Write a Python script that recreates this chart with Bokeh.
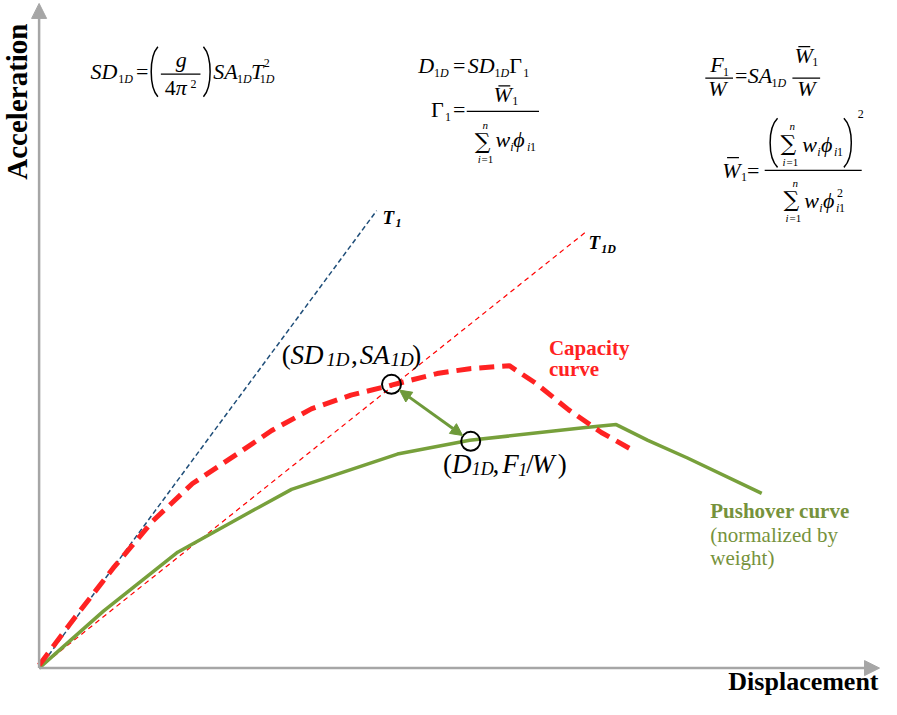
import math
from bokeh.plotting import figure
from bokeh.models import Range1d, Label, Arrow, NormalHead
from bokeh.embed import file_html
from bokeh.resources import INLINE

# ---------------- data (displacement / acceleration, arbitrary units) -------------
t1_disp = [0, 341]
t1_acc = [0, 466]
t1d_disp = [0, 552]
t1d_acc = [0, 444]
cap_disp = [0, 35, 75, 115, 155, 200, 235, 275, 315, 355, 402, 435, 475, 502, 535, 568, 603]
cap_acc = [3, 50, 102, 150, 188, 218, 242, 264, 278, 288, 300, 305, 308, 290, 263, 240, 220]
push_disp = [0, 65, 140, 215, 255, 362, 435, 552, 583, 615, 655, 730]
push_acc = [0, 58, 118, 160, 182, 218, 232, 245, 248, 232, 214, 178]
perf_disp = [356, 436]   # (SD1D, SA1D) and (D1D, F1/W)
perf_acc = [289, 231]

RED = "#FF2222"
GREEN = "#77A03B"
TGREEN = "#76923C"
NAVY = "#1F4E79"
GRAY = "#A6A6A6"
FONT = "Liberation Serif"
SUMFONT = "DejaVu Serif"

p = figure(width=881, height=699, x_range=Range1d(-39, 851), y_range=Range1d(-32, 680),
           output_backend="svg", toolbar_location=None, min_border=0,
           x_axis_location=None, y_axis_location=None)
p.min_border_left = p.min_border_right = p.min_border_top = p.min_border_bottom = 0
p.outline_line_color = None
p.xgrid.visible = False
p.ygrid.visible = False
p.background_fill_color = "white"


def X(a):
    return a - 45


def Y(b):
    return 680 - b


# axes arrows
for xs, ys, xe, ye in [(0, 0, 0, 677), (0, 0, 849, 0)]:
    p.add_layout(Arrow(end=NormalHead(size=15, fill_color=GRAY, line_color=GRAY),
                       x_start=xs, y_start=ys, x_end=xe, y_end=ye,
                       line_color=GRAY, line_width=2.5))

# period lines
p.line(t1_disp, t1_acc, line_color=NAVY, line_width=1.5, line_dash="5 3")
p.line(t1d_disp, t1d_acc, line_color="#FF0000", line_width=1.2, line_dash="5 4")

# curves
p.line(push_disp, push_acc, line_color=GREEN, line_width=3.5)
p.line(cap_disp, cap_acc, line_color=RED, line_width=5, line_dash="15 8")

# double arrow between performance points
dx = perf_disp[1] - perf_disp[0]
dy = perf_acc[1] - perf_acc[0]
L = math.hypot(dx, dy)
ux, uy = dx / L, dy / L
off = 10
p.add_layout(Arrow(start=NormalHead(size=12, fill_color="#6E9A3A", line_color="#6E9A3A"),
                   end=NormalHead(size=12, fill_color="#6E9A3A", line_color="#6E9A3A"),
                   x_start=perf_disp[0] + ux * off, y_start=perf_acc[0] + uy * off,
                   x_end=perf_disp[1] - ux * off, y_end=perf_acc[1] - uy * off,
                   line_color="#6E9A3A", line_width=3))

p.scatter(perf_disp, perf_acc, size=19, fill_color=None, line_color="black", line_width=2)

SHIFT = 0.36  # compensation of the label baseline placement (fraction of font size)


def run(text, a, b, size, style="normal", color="black", angle=0, align="left", font=FONT):
    if angle == 0:
        b = b - SHIFT * size
    else:
        a = a - SHIFT * size
    p.add_layout(Label(x=X(a), y=Y(b), text=text, text_font=font,
                       text_font_size=f"{size}px", text_font_style=style,
                       text_color=color, angle=angle, text_align=align,
                       text_baseline="alphabetic"))


def bar(a0, a1, b, w=1.2):
    p.segment(x0=[X(a0)], y0=[Y(b)], x1=[X(a1)], y1=[Y(b)], line_color="black", line_width=w)


def paren(a, top, bottom, bulge):
    h = bottom - top
    p.bezier(x0=[X(a)], y0=[Y(top)], x1=[X(a)], y1=[Y(bottom)],
             cx0=[X(bulge)], cy0=[Y(top + 0.2 * h)], cx1=[X(bulge)], cy1=[Y(bottom - 0.2 * h)],
             line_color="black", line_width=1.5)


def sigma(a, b):
    run("∑", a, b, 22, font=SUMFONT)


M = 22   # main formula size
S = 12   # sub/superscript size

# ---- formula 1
run("SD", 97, 80, M, "italic")
run("1", 125, 84, S)
run("D", 131, 84, S, "italic")
run("=", 143, 80, M)
paren(165, 47, 98, 156)
run("g", 183, 68, M, "italic")
bar(168, 208, 75)
run("4", 172, 97, M)
run("π", 183, 97, M, "italic")
run("2", 198, 89, S)
paren(211, 47, 98, 220)
run("SA", 221, 80, M, "italic")
run("1", 245, 84, S)
run("D", 251, 84, S, "italic")
run("T", 259, 80, M, "italic")
run("2", 272, 68, S)
run("1", 268, 84, S)
run("D", 274, 84, S, "italic")

# ---- formula 2
run("D", 428, 74, M, "italic")
run("1", 444, 78, S)
run("D", 450, 78, S, "italic")
run("=", 463, 74, M)
run("SD", 478, 74, M, "italic")
run("1", 505, 78, S)
run("D", 511, 78, S, "italic")
run("Γ", 520, 74, M)
run("1", 534, 78, S)

run("Γ", 441, 119, M)
run("1", 455, 123, S)
run("=", 463, 119, M)
bar(477, 550, 113)
run("W", 504, 104, M, "italic")
bar(509, 521, 87)
run("1", 523, 107, S)
run("n", 493, 131, 11, "italic")
sigma(485, 152)
run("i", 488, 165, 11, "italic")
run("=1", 492, 165, 11)
run("w", 506, 150, M, "italic")
run("i", 521, 154, S, "italic")
run("ϕ", 524, 150, M, "italic")
run("i", 538, 154, S, "italic")
run("1", 541, 154, S)

# ---- formula 3
run("F", 723, 73, M, "italic")
run("1", 736, 77, S)
bar(718, 746, 79)
run("W", 721, 98, M, "italic")
run("=", 748, 84, M)
run("SA", 761, 84, M, "italic")
run("1", 785, 88, S)
run("D", 791, 88, S, "italic")
bar(806, 834, 79)
run("W", 808, 64, M, "italic")
bar(812, 824, 47)
run("1", 826, 67, S)
run("W", 811, 98, M, "italic")

run("W", 735, 181, M, "italic")
bar(740, 752, 160)
run("1", 754, 184, S)
run("=", 760, 181, M)
bar(778, 876, 173)
paren(791, 120, 170, 781)
paren(858, 120, 170, 868)
run("2", 872, 120, S)
run("n", 803, 132, 11, "italic")
sigma(794, 154)
run("i", 796, 168, 11, "italic")
run("=1", 800, 168, 11)
run("w", 816, 155, M, "italic")
run("i", 831, 159, S, "italic")
run("ϕ", 835, 155, M, "italic")
run("i", 848, 159, S, "italic")
run("1", 851, 159, S)
run("n", 806, 190, 11, "italic")
sigma(797, 211)
run("i", 799, 225, 11, "italic")
run("=1", 803, 225, 11)
run("w", 818, 212, M, "italic")
run("i", 833, 216, S, "italic")
run("ϕ", 837, 212, M, "italic")
run("2", 851, 200, S)
run("i", 850, 216, S, "italic")
run("1", 853, 216, S)

# ---- period labels
run("T", 392, 228, 19, "bold italic")
run("1", 405, 231, 12, "bold italic")
run("T", 600, 253, 19, "bold italic")
run("1D", 613, 257, 12, "bold italic")

# ---- point labels
run("(", 290, 371, 27)
run("SD", 299, 371, 27, "italic")
run("1D", 335, 373, 19, "italic")
run(",", 360, 371, 27)
run("SA", 369, 371, 27, "italic")
run("1D", 400, 373, 19, "italic")
run(")", 422, 371, 27)

run("(", 453, 482, 27)
run("D", 462, 482, 27, "italic")
run("1D", 482, 484, 18, "italic")
run(",", 503, 482, 27)
run("F", 513, 482, 27, "italic")
run("1", 529, 484, 18, "italic")
run("/", 537, 482, 27)
run("W", 543, 482, 27, "italic")
run(")", 569, 482, 27)

# ---- curve labels
run("Capacity", 560, 362, 21, "bold", RED)
run("curve", 560, 383, 21, "bold", RED)
run("Pushover curve", 723, 528, 21, "bold", TGREEN)
run("(normalized by", 723, 552, 21, "normal", TGREEN)
run("weight)", 723, 575, 21, "normal", TGREEN)

# ---- axis titles
run("Acceleration", 33, 103, 29, "bold", "black", angle=math.pi / 2, align="center")
run("Displacement", 893, 703, 26, "bold", "black", align="right")

open("out.html", "w").write(file_html(p, INLINE))
